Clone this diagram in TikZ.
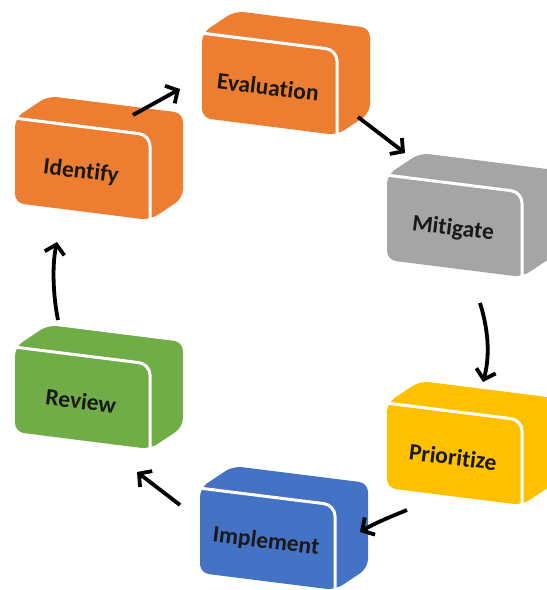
\documentclass[tikz,border=0pt]{standalone}
\usepackage{fontspec}
\setmainfont{Carlito}[Ligatures={NoCommon,NoRequired,NoContextual}]
\usetikzlibrary{arrows.meta}
\definecolor{orng}{HTML}{ED7D31}
\definecolor{gry}{HTML}{A5A5A5}
\definecolor{gld}{HTML}{FFC000}
\definecolor{blu}{HTML}{4472C4}
\definecolor{grn}{HTML}{70AD47}
\tikzset{
  boxtext/.style={font=\fontsize{23.5}{26}\selectfont\bfseries, text=black!90, inner sep=0pt},
  flow/.style={line width=3.8pt, -{Straight Barb[length=9pt,width=20pt]}},
  gap/.style={draw=white, line width=3pt, rounded corners=11pt},
}
\newcommand\riskbox[5]{%
  \fill[#4, rounded corners=9pt] (#2,#3) -- ++(33,-22) -- ++(135,17) -- ++(0,85) -- ++(-33,22) -- ++(-135,-17) -- cycle;
  \draw[gap] (#2-1,#3) -- ++(136,17) -- ++(0,87);
  \node[boxtext, rotate=-7] (#1) at (#2+66,#3+54) {#5};
}
\begin{document}
\begin{tikzpicture}[x=1pt,y=-1pt]
\useasboundingbox (0,0) rectangle (547,590);
\riskbox{identify}{15}{118}{orng}{Identify}
\riskbox{evaluation}{202}{33}{orng}{Evaluation}
\riskbox{mitigate}{387}{175}{gry}{Mitigate}
\riskbox{prioritize}{387}{403}{gld}{Prioritize}
\riskbox{implement}{200}{488}{blu}{Implement}
\riskbox{review}{15}{347}{grn}{Review}
\coordinate (s1) at (133,115); \coordinate (e1) at (180,89);
\coordinate (s2) at (358,117); \coordinate (e2) at (405,153);
\coordinate (s3) at (480,303); \coordinate (e3) at (483,382);
\coordinate (s4) at (407,510); \coordinate (e4) at (360,532);
\coordinate (s5) at (180,505); \coordinate (e5) at (137,472);
\coordinate (s6) at (58,320);  \coordinate (e6) at (57,242);
\draw[flow] (s1) -- (e1);
\draw[flow] (s2) -- (e2);
\draw[flow] (s3) .. controls (490,335) and (489,360) .. (e3);
\draw[flow] (s4) .. controls (390,517) and (375,523) .. (e4);
\draw[flow] (s5) -- (e5);
\draw[flow] (s6) .. controls (53,295) and (52,265) .. (e6);
\end{tikzpicture}
\end{document}
